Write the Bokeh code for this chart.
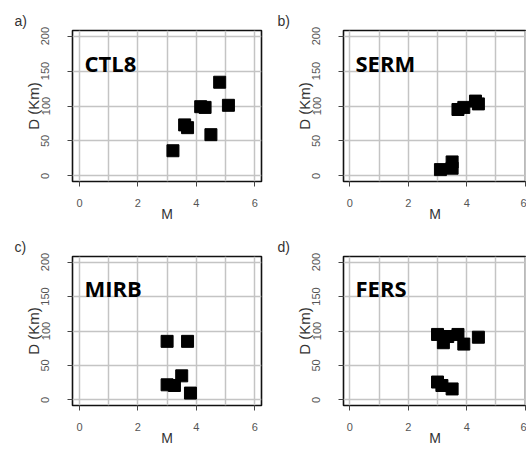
from bokeh.plotting import figure
from bokeh.layouts import gridplot
from bokeh.models import Range1d, FixedTicker, Label
from bokeh.embed import file_html
from bokeh.resources import INLINE

# Magnitude (M) and depth (D, km) of events at each station
ctl8_m = [3.2, 3.6, 3.7, 4.15, 4.3, 4.5, 4.8, 5.1]
ctl8_d = [36, 73, 69, 99, 98, 59, 134, 101]

serm_m = [3.1, 3.5, 3.5, 3.7, 3.9, 4.3, 4.4]
serm_d = [9, 20, 11, 95, 98, 107, 103]

mirb_m = [3.0, 3.7, 3.0, 3.25, 3.5, 3.8]
mirb_d = [85, 85, 22, 21, 35, 10]

fers_m = [3.0, 3.2, 3.35, 3.7, 3.9, 4.4, 3.0, 3.15, 3.5]
fers_d = [95, 83, 92, 95, 81, 91, 26, 21, 16]

stations = ["CTL8", "SERM", "MIRB", "FERS"]
panel_tags = ["a)", "b)", "c)", "d)"]
x_ticks = [0, 2, 4, 6]
y_ticks = [0, 50, 100, 150, 200]
x_grid = [0, 1, 2, 3, 4, 5, 6]

PX_PER_M = 29.2


def panel(m, d, name, tag, width, height, left, right, top, bottom, x_start):
    frame_w = width - left - right
    x_end = x_start + frame_w / PX_PER_M
    p = figure(width=width, height=height, output_backend="svg",
               toolbar_location=None,
               x_range=Range1d(x_start, x_end), y_range=Range1d(-8, 208),
               min_border_left=left, min_border_right=right,
               min_border_top=top, min_border_bottom=bottom)
    p.background_fill_color = "white"
    p.border_fill_color = "white"
    p.outline_line_color = "#111111"
    p.outline_line_width = 1.6

    # panel tag in the top margin
    p.title.text = tag
    p.title.align = "left"
    p.title.offset = -(left - 14)
    p.title.standoff = 4
    p.title.text_font = "Liberation Sans"
    p.title.text_font_size = "14px"
    p.title.text_font_style = "normal"
    p.title.text_color = "#333333"

    p.xgrid.ticker = FixedTicker(ticks=x_grid)
    p.ygrid.ticker = FixedTicker(ticks=y_ticks)
    for g in (p.xgrid[0], p.ygrid[0]):
        g.grid_line_color = "#c4c4c4"
        g.grid_line_width = 1.5

    p.xaxis.ticker = FixedTicker(ticks=x_ticks)
    p.yaxis.ticker = FixedTicker(ticks=y_ticks)
    for ax in (p.xaxis[0], p.yaxis[0]):
        ax.axis_line_color = None
        ax.major_tick_out = 5
        ax.major_tick_in = 0
        ax.minor_tick_line_color = None
        ax.major_tick_line_color = "#444444"
        ax.major_label_text_font = "Liberation Sans"
        ax.major_label_text_font_size = "11px"
        ax.major_label_text_color = "#555555"
        ax.axis_label_text_font = "Liberation Sans"
        ax.axis_label_text_font_size = "15px"
        ax.axis_label_text_font_style = "normal"
        ax.axis_label_text_color = "#333333"
    p.xaxis.axis_label = "M"
    p.yaxis.axis_label = "D (Km)"
    p.xaxis.major_label_standoff = 12
    p.xaxis.axis_label_standoff = -4
    p.xaxis.axis_label_text_font_size = "14px"
    p.yaxis.major_label_standoff = 18
    p.yaxis.axis_label_standoff = -3
    p.yaxis.major_label_orientation = "vertical"

    p.scatter(m, d, marker="square", size=12, fill_color="black",
              line_color="black")

    p.add_layout(Label(x=x_start + 12 / PX_PER_M, y=162, text=name,
                       text_font="Open Sans", text_font_style="bold",
                       text_font_size="22px", text_color="black",
                       text_baseline="alphabetic"))
    return p


pa = panel(ctl8_m, ctl8_d, stations[0], panel_tags[0], 263, 226, 72, 2, 29, 45, -0.24)
pb = panel(serm_m, serm_d, stations[1], panel_tags[1], 263, 226, 80, 0, 30, 45, -0.22)
pc = panel(mirb_m, mirb_d, stations[2], panel_tags[2], 263, 223, 72, 2, 30, 44, -0.24)
pd = panel(fers_m, fers_d, stations[3], panel_tags[3], 263, 223, 80, 0, 30, 44, -0.22)

p = gridplot([[pa, pb], [pc, pd]], toolbar_location=None)

open("out.html", "w").write(file_html(p, INLINE))
